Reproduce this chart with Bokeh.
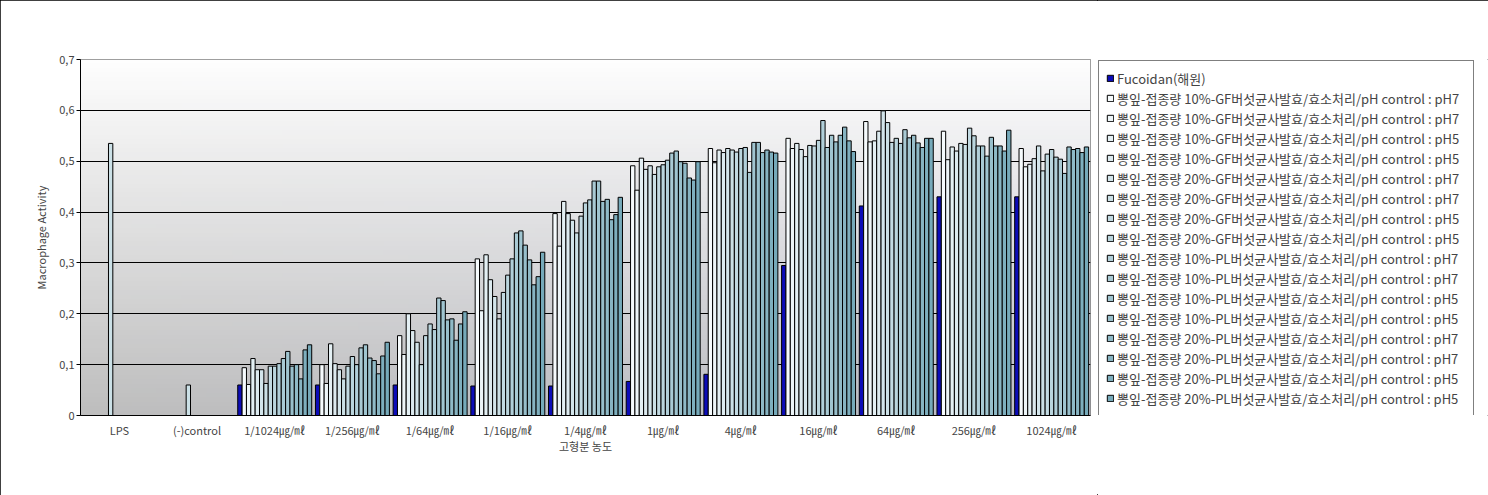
import numpy as np
from bokeh.plotting import figure
from bokeh.layouts import row
from bokeh.models import (ColumnDataSource, FactorRange, Range1d, FixedTicker, Legend,
                          LegendItem, CustomJSTickFormatter)
from bokeh.transform import dodge
from bokeh.embed import file_html
from bokeh.resources import INLINE

nan = float("nan")

categories = ["LPS", "(-)control", "1/1024㎍/㎖", "1/256㎍/㎖", "1/64㎍/㎖", "1/16㎍/㎖",
              "1/4㎍/㎖", "1㎍/㎖", "4㎍/㎖", "16㎍/㎖", "64㎍/㎖", "256㎍/㎖", "1024㎍/㎖"]

series_names = [
    "Fucoidan(해원)",
    "뽕잎-접종량 10%-GF버섯균사발효/효소처리/pH control : pH7",
    "뽕잎-접종량 10%-GF버섯균사발효/효소처리/pH control : pH7",
    "뽕잎-접종량 10%-GF버섯균사발효/효소처리/pH control : pH5",
    "뽕잎-접종량 10%-GF버섯균사발효/효소처리/pH control : pH5",
    "뽕잎-접종량 20%-GF버섯균사발효/효소처리/pH control : pH7",
    "뽕잎-접종량 20%-GF버섯균사발효/효소처리/pH control : pH7",
    "뽕잎-접종량 20%-GF버섯균사발효/효소처리/pH control : pH5",
    "뽕잎-접종량 20%-GF버섯균사발효/효소처리/pH control : pH5",
    "뽕잎-접종량 10%-PL버섯균사발효/효소처리/pH control : pH7",
    "뽕잎-접종량 10%-PL버섯균사발효/효소처리/pH control : pH7",
    "뽕잎-접종량 10%-PL버섯균사발효/효소처리/pH control : pH5",
    "뽕잎-접종량 10%-PL버섯균사발효/효소처리/pH control : pH5",
    "뽕잎-접종량 20%-PL버섯균사발효/효소처리/pH control : pH7",
    "뽕잎-접종량 20%-PL버섯균사발효/효소처리/pH control : pH7",
    "뽕잎-접종량 20%-PL버섯균사발효/효소처리/pH control : pH5",
    "뽕잎-접종량 20%-PL버섯균사발효/효소처리/pH control : pH5",
]

fucoidan = [nan, nan, 0.060, 0.060, 0.060, 0.058, 0.058, 0.067, 0.081, 0.295, 0.412, 0.430, 0.430]
s01 = [nan, nan, 0.094, 0.100, 0.157, 0.308, 0.397, 0.491, 0.525, 0.545, 0.578, 0.559, 0.525]
s02 = [nan, nan, 0.061, 0.063, 0.120, 0.206, 0.333, 0.443, 0.497, 0.525, 0.538, 0.503, 0.489]
s03 = [nan, nan, 0.112, 0.141, 0.200, 0.316, 0.421, 0.506, 0.522, 0.535, 0.540, 0.528, 0.494]
s04 = [nan, nan, 0.090, 0.102, 0.167, 0.267, 0.397, 0.484, 0.517, 0.523, 0.559, 0.520, 0.505]
s05 = [nan, nan, 0.090, 0.090, 0.144, 0.234, 0.384, 0.491, 0.525, 0.509, 0.599, 0.535, 0.530]
s06 = [0.535, 0.060, 0.063, 0.072, 0.100, 0.190, 0.359, 0.474, 0.522, 0.531, 0.576, 0.533, 0.481]
s07 = [nan, nan, 0.097, 0.097, 0.157, 0.242, 0.392, 0.489, 0.518, 0.530, 0.537, 0.565, 0.514]
s08 = [nan, nan, 0.097, 0.116, 0.180, 0.276, 0.418, 0.493, 0.525, 0.541, 0.545, 0.550, 0.523]
s09 = [nan, nan, 0.102, 0.100, 0.169, 0.308, 0.424, 0.502, 0.527, 0.580, 0.535, 0.530, 0.508]
s10 = [nan, nan, 0.112, 0.133, 0.231, 0.359, 0.461, 0.516, 0.478, 0.527, 0.562, 0.530, 0.504]
s11 = [nan, nan, 0.126, 0.139, 0.226, 0.363, 0.461, 0.520, 0.537, 0.551, 0.546, 0.510, 0.476]
s12 = [nan, nan, 0.097, 0.113, 0.188, 0.335, 0.421, 0.499, 0.537, 0.538, 0.551, 0.547, 0.528]
s13 = [nan, nan, 0.100, 0.108, 0.190, 0.306, 0.425, 0.496, 0.517, 0.551, 0.536, 0.530, 0.523]
s14 = [nan, nan, 0.072, 0.082, 0.148, 0.257, 0.385, 0.467, 0.522, 0.567, 0.527, 0.530, 0.525]
s15 = [nan, nan, 0.129, 0.117, 0.180, 0.273, 0.395, 0.463, 0.518, 0.540, 0.545, 0.520, 0.517]
s16 = [nan, nan, 0.139, 0.144, 0.204, 0.321, 0.429, 0.499, 0.516, 0.519, 0.545, 0.561, 0.528]

y_ticks = [0, 0.1, 0.2, 0.3, 0.4, 0.5, 0.6, 0.7]

all_series = [fucoidan, s01, s02, s03, s04, s05, s06, s07, s08, s09, s10, s11, s12,
              s13, s14, s15, s16]
keys = ["s%02d" % k for k in range(len(all_series))]

# colours: dark blue, then white -> teal gradient
c0 = np.array([246, 251, 253])
c1 = np.array([118, 170, 186])
colors = ["#0c0cb8"]
for k in range(16):
    t = k / 15.0
    c = (c0 * (1 - t) + c1 * t).astype(int)
    colors.append("#%02x%02x%02x" % tuple(c))

data = {"cat": categories}
for k, s in zip(keys, all_series):
    data[k] = np.array(s, dtype=float)
src = ColumnDataSource(data)

FONT = "Noto Sans CJK KR"

p = figure(width=1097, height=495, output_backend="svg", toolbar_location=None,
           x_range=FactorRange(*categories, range_padding=0, factor_padding=0),
           y_range=Range1d(y_ticks[0], y_ticks[-1]),
           min_border_left=80, min_border_right=7, min_border_top=59, min_border_bottom=80)
p.border_fill_color = "white"

# background gradient of the plot area
H, W = 80, 40
img = np.zeros((H, W), dtype=np.uint32)
view = img.view(dtype=np.uint8).reshape((H, W, 4))
for i in range(H):
    t = 1 - i / (H - 1)  # 0 top, 1 bottom (image row 0 is bottom)
    g = 254 - 64 * t
    for j in range(W):
        u = j / (W - 1)
        view[i, j, 0] = int(min(255, g - 2 * t * u))
        view[i, j, 1] = int(min(255, g - 1 * t * u))
        view[i, j, 2] = int(min(255, g + 8 * t * u))
        view[i, j, 3] = 255
p.image_rgba(image=[img], x=0, y=y_ticks[0], dw=len(categories),
             dh=y_ticks[-1] - y_ticks[0], level="image")

n = len(all_series)
group = 0.952
w = group / n
for k, key in enumerate(keys):
    off = -group / 2 + w * (k + 0.5)
    p.vbar(x=dodge("cat", off, range=p.x_range), top=key, width=w, bottom=0,
           source=src, fill_color=colors[k], line_color="#000000", line_width=1)

p.background_fill_color = "white"
p.outline_line_color = "#808080"

p.xgrid.visible = False
p.ygrid.ticker = FixedTicker(ticks=y_ticks)
p.ygrid.grid_line_color = "black"
p.ygrid.grid_line_width = 1

p.yaxis.ticker = FixedTicker(ticks=y_ticks)
p.yaxis.formatter = CustomJSTickFormatter(
    code="return tick == 0 ? '0' : tick.toFixed(1).replace('.', ',');")
p.yaxis.axis_label = "Macrophage Activity"
p.yaxis.axis_label_text_font = FONT
p.yaxis.axis_label_text_font_size = "11px"
p.yaxis.axis_label_text_font_style = "normal"
p.yaxis.axis_label_standoff = 7
p.yaxis.major_label_text_font = FONT
p.yaxis.major_label_text_font_size = "11px"
p.yaxis.major_label_standoff = 2
p.yaxis.major_tick_out = 4
p.yaxis.major_tick_in = 0
p.yaxis.minor_tick_line_color = None
p.yaxis.axis_line_color = "black"
p.yaxis.major_tick_line_color = "black"

p.xaxis.axis_label = "고형분 농도"
p.xaxis.axis_label_text_font = FONT
p.xaxis.axis_label_text_font_size = "11px"
p.xaxis.axis_label_text_font_style = "normal"
p.xaxis.axis_label_standoff = -3
p.xaxis.major_label_text_font = FONT
p.xaxis.major_label_text_font_size = "11px"
p.xaxis.major_label_standoff = 0
p.xaxis.major_tick_line_color = None
p.xaxis.axis_line_color = "black"
p.xaxis.major_label_orientation = "horizontal"

# legend panel (separate canvas; its frame is aligned with the chart's frame)
q = figure(width=391, height=495, output_backend="svg", toolbar_location=None,
           x_axis_type=None, y_axis_type=None,
           min_border_left=0, min_border_right=0, min_border_top=59, min_border_bottom=80,
           x_range=Range1d(0, 1), y_range=Range1d(0, 1))
q.outline_line_color = None
q.border_fill_color = "white"
q.background_fill_color = "white"
q.xgrid.visible = False
q.ygrid.visible = False
swatches = []
for k in range(n):
    swatches.append(q.vbar(x=[nan], top=[nan], width=0.1, fill_color=colors[k],
                           line_color="#000000", line_width=1))
items = [LegendItem(label=series_names[k], renderers=[swatches[k]]) for k in range(n)]
legend = Legend(items=items, location="top_left", label_text_font=FONT,
                label_text_font_size="13px", glyph_width=8, glyph_height=8,
                label_height=20, spacing=0, padding=7, margin=1, label_standoff=3,
                label_width=349,
                border_line_color="black", border_line_width=1,
                background_fill_color="white", background_fill_alpha=1.0)
q.add_layout(legend)

layout = row(p, q, styles={"outline": "1px solid black", "outline-offset": "-1px"})

open("out.html", "w").write(file_html(layout, INLINE))
